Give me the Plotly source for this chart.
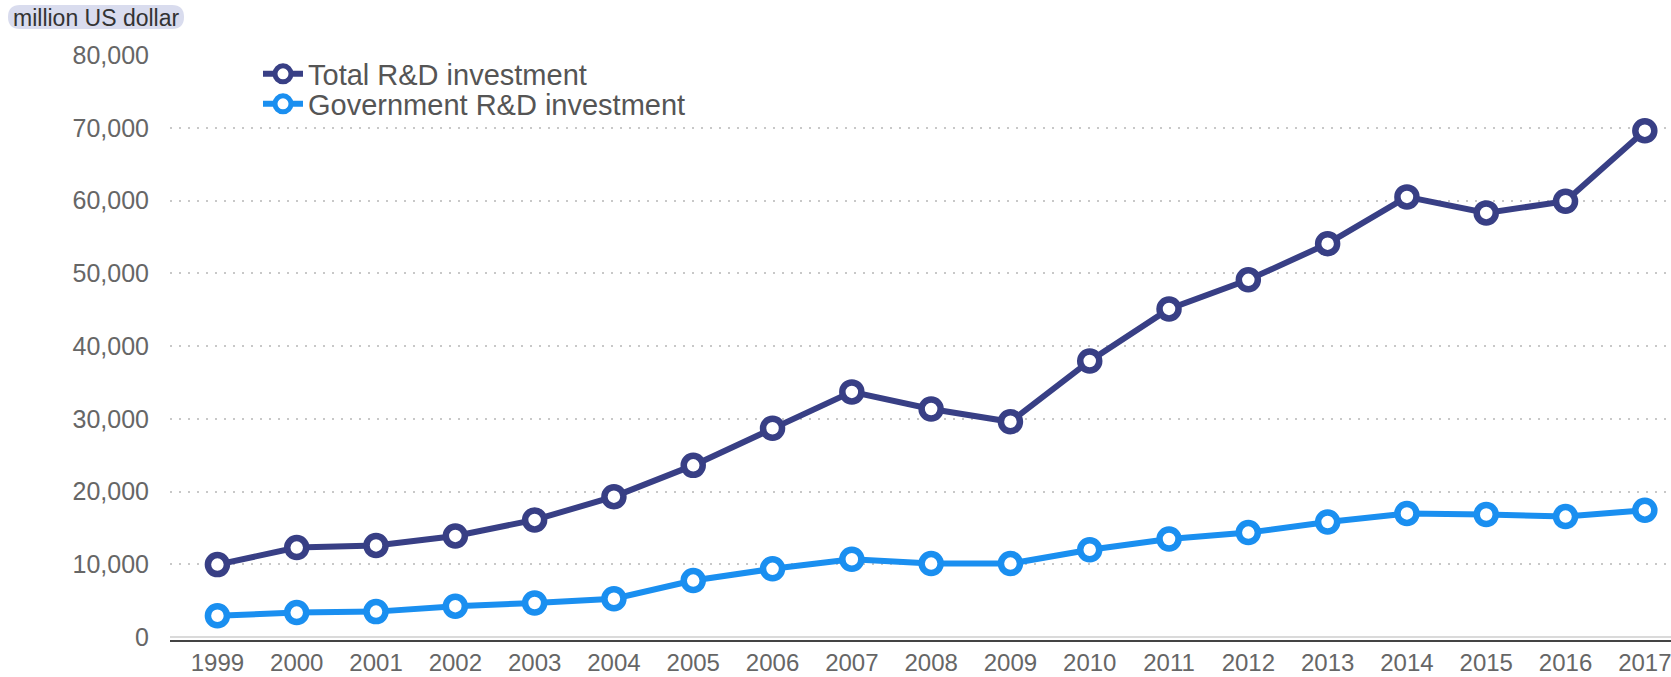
import plotly.graph_objects as go

years = ["1999", "2000", "2001", "2002", "2003", "2004", "2005", "2006", "2007", "2008",
         "2009", "2010", "2011", "2012", "2013", "2014", "2015", "2016", "2017"]
total_rd = [9960, 12300, 12600, 13900, 16100, 19300, 23600, 28700, 33700, 31350,
            29600, 37950, 45100, 49100, 54070, 60500, 58300, 59900, 69600]
gov_rd = [2930, 3370, 3500, 4250, 4690, 5270, 7770, 9380, 10700, 10100,
          10100, 12000, 13480, 14360, 15820, 17000, 16850, 16560, 17440]
y_ticks = [0, 10000, 20000, 30000, 40000, 50000, 60000, 70000, 80000]
unit_label = "million US dollar"

NAVY = "#383F85"
BLUE = "#1A8FF0"
idx = list(range(len(years)))

W, H = 1671, 677
ml, mr, mt, mb = 170, 0, 55, 37
pw, ph = W - ml - mr, H - mt - mb


def px2paper(px, py):
    return (px - ml) / pw, (H - mb - py) / ph


fig = go.Figure()
fig.add_trace(go.Scatter(
    x=idx, y=total_rd, mode="lines+markers", name="Total R&D investment",
    line=dict(color=NAVY, width=6), legend="legend",
    marker=dict(symbol="circle", size=19, color="white", line=dict(color=NAVY, width=6.5)),
))
fig.add_trace(go.Scatter(
    x=idx, y=gov_rd, mode="lines+markers", name="Government R&D investment",
    line=dict(color=BLUE, width=6), legend="legend2",
    marker=dict(symbol="circle", size=19, color="white", line=dict(color=BLUE, width=6.5)),
))

# rounded pill behind unit label
x0, x1, y0, y1, r = 8, 184, 5, 29, 12


def P(px, py):
    a, b = px2paper(px, py)
    return f"{a:.5f},{b:.5f}"


path = (f"M {P(x0 + r, y0)} L {P(x1 - r, y0)} Q {P(x1, y0)} {P(x1, y0 + r)} "
        f"L {P(x1, y1 - r)} Q {P(x1, y1)} {P(x1 - r, y1)} L {P(x0 + r, y1)} "
        f"Q {P(x0, y1)} {P(x0, y1 - r)} L {P(x0, y0 + r)} Q {P(x0, y0)} {P(x0 + r, y0)} Z")

lx, ly = px2paper(96, 18)
legend_font = dict(size=29, color="#555555")
lgx = px2paper(258, 0)[0]
fig.update_layout(
    width=W, height=H,
    margin=dict(l=ml, r=mr, t=mt, b=mb, pad=0, autoexpand=False),
    plot_bgcolor="white", paper_bgcolor="white",
    font=dict(family="Liberation Sans, Arial, sans-serif", color="#555555"),
    showlegend=True,
    legend=dict(x=lgx, y=px2paper(0, 74)[1], xanchor="left", yanchor="middle",
                bgcolor="rgba(0,0,0,0)", font=legend_font, itemwidth=40),
    legend2=dict(x=lgx, y=px2paper(0, 104)[1], xanchor="left", yanchor="middle",
                 bgcolor="rgba(0,0,0,0)", font=legend_font, itemwidth=40),
    shapes=[dict(type="path", path=path, xref="paper", yref="paper",
                 fillcolor="#D9DCEE", line=dict(width=0), layer="above")],
    annotations=[dict(text=unit_label, x=lx, y=ly, xref="paper", yref="paper",
                      showarrow=False, xanchor="center", yanchor="middle",
                      font=dict(size=23, color="#333333"))],
)
fig.update_xaxes(
    range=[-0.598, 18.33], tickmode="array", tickvals=idx, ticktext=years,
    showgrid=False, zeroline=False, showline=True, linecolor="#444444", linewidth=2,
    ticks="", tickfont=dict(size=24, color="#666666"),
    ticklabelstandoff=0, ticklabeloverflow="allow", automargin=False,
)
fig.update_yaxes(
    range=[-400, 80000], tickmode="array", tickvals=y_ticks,
    ticktext=[f"{v:,}" for v in y_ticks],
    showgrid=True, gridcolor="#C8C8C8", griddash="2px,7px", gridwidth=2,
    zeroline=True, zerolinecolor="#DADADA", zerolinewidth=2,
    showline=False, ticks="", automargin=False,
    tickfont=dict(size=25, color="#666666"),
    ticklabelstandoff=20,
)

fig.write_html("out.html")
